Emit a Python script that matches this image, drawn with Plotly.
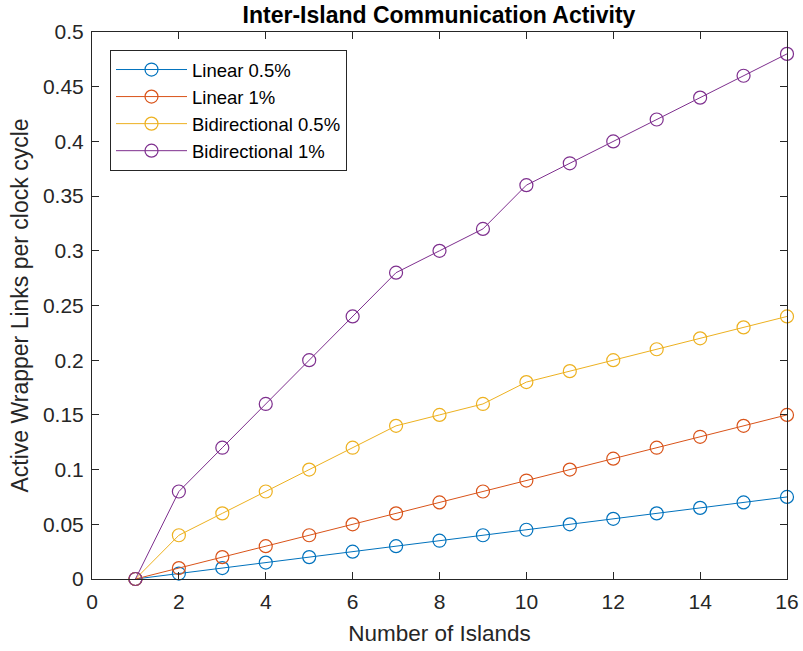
import plotly.graph_objects as go

islands = list(range(1, 17))
linear_05 = [0, 0.005, 0.01, 0.015, 0.02, 0.025, 0.03, 0.035, 0.04, 0.045, 0.05, 0.055, 0.06, 0.065, 0.07, 0.075]
linear_1 = [0, 0.01, 0.02, 0.03, 0.04, 0.05, 0.06, 0.07, 0.08, 0.09, 0.10, 0.11, 0.12, 0.13, 0.14, 0.15]
bidir_05 = [0, 0.04, 0.06, 0.08, 0.10, 0.12, 0.14, 0.15, 0.16, 0.18, 0.19, 0.20, 0.21, 0.22, 0.23, 0.24]
bidir_1 = [0, 0.08, 0.12, 0.16, 0.20, 0.24, 0.28, 0.30, 0.32, 0.36, 0.38, 0.40, 0.42, 0.44, 0.46, 0.48]

series = [
    ("Linear 0.5%", linear_05, "#0072BD"),
    ("Linear 1%", linear_1, "#D95319"),
    ("Bidirectional 0.5%", bidir_05, "#EDB120"),
    ("Bidirectional 1%", bidir_1, "#7E2F8E"),
]

x_ticks = [0, 2, 4, 6, 8, 10, 12, 14, 16]
y_ticks = [0, 0.05, 0.1, 0.15, 0.2, 0.25, 0.3, 0.35, 0.4, 0.45, 0.5]
y_tick_labels = ["0", "0.05", "0.1", "0.15", "0.2", "0.25", "0.3", "0.35", "0.4", "0.45", "0.5"]

fig = go.Figure()
for name, vals, color in series:
    fig.add_trace(go.Scatter(
        x=islands, y=vals, name=name, mode="lines+markers",
        line=dict(color=color, width=1),
        marker=dict(symbol="circle-open", size=13, color=color, line=dict(width=1.2, color=color)),
        cliponaxis=False,
    ))

axis_common = dict(
    showgrid=False, zeroline=False, showline=True, linecolor="#262626", linewidth=1,
    mirror="ticks", ticks="inside", ticklen=7, tickcolor="#262626",
    tickfont=dict(size=21, color="#262626"),
)

fig.update_layout(
    width=803, height=651,
    margin=dict(l=92, r=16, t=32, b=72, autoexpand=False),
    paper_bgcolor="white", plot_bgcolor="white",
    font=dict(family="Liberation Sans, Arial, sans-serif", color="#262626"),
    title=dict(text="<b>Inter-Island Communication Activity</b>", x=439 / 803, xanchor="center",
               y=1 - 15 / 651, yanchor="middle", font=dict(size=23, color="black")),
    xaxis=dict(range=[0, 16], tickvals=x_ticks, ticklabelstandoff=4,
               title=dict(text="Number of Islands", font=dict(size=22.5), standoff=13), **axis_common),
    yaxis=dict(range=[0, 0.5], tickvals=y_ticks, ticktext=y_tick_labels, ticklabelstandoff=3,
               title=dict(text="Active Wrapper Links per clock cycle", font=dict(size=23), standoff=7), **axis_common),
    legend=dict(x=(110 - 92) / 695, y=1 - (50 - 32) / 547, xanchor="left", yanchor="top", bgcolor="white",
                bordercolor="#262626", borderwidth=1, font=dict(size=18.5, color="black"),
                itemwidth=71, tracegroupgap=0),
    showlegend=True,
)

fig.write_html("out.html", config={"displayModeBar": False},
               post_script="document.body.style.margin='0';")
